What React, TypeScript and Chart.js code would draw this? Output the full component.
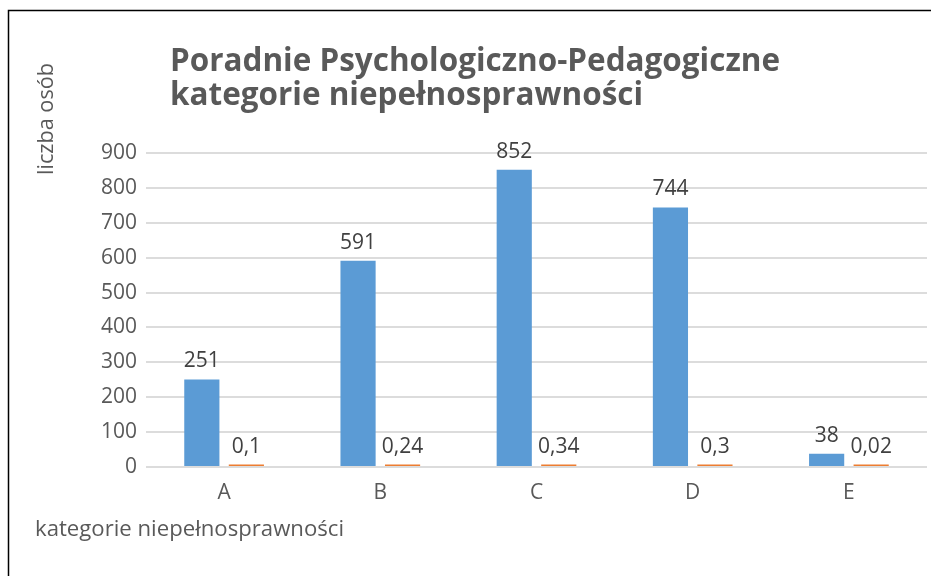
import React, { useEffect, useRef } from "react";
import { Chart, registerables } from "chart.js";

Chart.register(...registerables);

const categories = ["A", "B", "C", "D", "E"];
const countValues = [251, 591, 852, 744, 38];
const shareValues = [0.1, 0.24, 0.34, 0.3, 0.02];
const yMin = 0;
const yMax = 900;
const yStep = 100;
const titleLines = ["Poradnie Psychologiczno-Pedagogiczne", "kategorie niepełnosprawności"];
const yAxisTitle = "liczba osób";
const xAxisTitle = "kategorie niepełnosprawności";

const FONT = "'Open Sans', 'DejaVu Sans', sans-serif";
const TEXT = "#595959";
const LABEL = "#404040";

const fmt = (v: number) => String(v).replace(".", ",");

// draw text stretched horizontally to a target width
function fitText(ctx: CanvasRenderingContext2D, text: string, x: number, y: number, width: number) {
  const w = ctx.measureText(text).width;
  ctx.save();
  ctx.translate(x, y);
  ctx.scale(width / w, 1);
  ctx.fillText(text, 0, 0);
  ctx.restore();
}

const decorPlugin = {
  id: "decor",
  afterDraw(chart: any) {
    const ctx = chart.ctx as CanvasRenderingContext2D;
    ctx.save();
    // frame
    ctx.strokeStyle = "#000";
    ctx.lineWidth = 1.5;
    ctx.beginPath();
    ctx.moveTo(8.5, 576);
    ctx.lineTo(8.5, 10.5);
    ctx.lineTo(931, 10.5);
    ctx.stroke();

    // title
    ctx.fillStyle = TEXT;
    ctx.textAlign = "left";
    ctx.textBaseline = "alphabetic";
    ctx.font = `bold 33px ${FONT}`;
    const w0 = ctx.measureText(titleLines[0]).width;
    const sx = 610 / w0;
    ctx.save();
    ctx.translate(170, 0);
    ctx.scale(sx, 1);
    ctx.fillText(titleLines[0], 0, 71);
    ctx.fillText(titleLines[1], 0, 105);
    ctx.restore();

    // y axis title
    ctx.font = `21px ${FONT}`;
    ctx.save();
    ctx.translate(53, 175);
    ctx.rotate(-Math.PI / 2);
    fitText(ctx, yAxisTitle, 0, 0, 112);
    ctx.restore();

    // x axis title
    fitText(ctx, xAxisTitle, 35, 536, 309);

    // data labels
    ctx.fillStyle = LABEL;
    ctx.font = `21px ${FONT}`;
    ctx.textAlign = "center";
    ctx.textBaseline = "alphabetic";
    chart.data.datasets.forEach((ds: any, di: number) => {
      const meta = chart.getDatasetMeta(di);
      meta.data.forEach((el: any, i: number) => {
        ctx.fillText(fmt(ds.data[i]), el.x, el.y - 12);
      });
    });
    ctx.restore();
  },
};

export default function App() {
  const ref = useRef<HTMLCanvasElement | null>(null);
  useEffect(() => {
    document.body.style.margin = "0";
    const chart = new Chart(ref.current as HTMLCanvasElement, {
      type: "bar",
      data: {
        labels: categories,
        datasets: [
          {
            label: "liczba osób",
            data: countValues,
            backgroundColor: "#5B9BD5",
            categoryPercentage: 0.57,
            barPercentage: 0.79,
          },
          {
            label: "udział",
            data: shareValues,
            backgroundColor: "#ED7D31",
            categoryPercentage: 0.57,
            barPercentage: 0.79,
            minBarLength: 2.5,
          },
        ],
      },
      options: {
        responsive: false,
        animation: false,
        layout: { padding: { top: 153, right: 4, left: 0, bottom: 0 } },
        plugins: { legend: { display: false }, tooltip: { enabled: false }, title: { display: false } },
        scales: {
          x: {
            grid: { display: false },
            border: { display: false },
            ticks: { color: TEXT, font: { family: FONT, size: 21 }, padding: 5 },
            afterFit: (s: any) => {
              s.height = 109;
            },
          },
          y: {
            min: yMin,
            max: yMax,
            ticks: { stepSize: yStep, color: TEXT, font: { family: FONT, size: 21 }, padding: 9 },
            grid: { color: "#dcdcdc", lineWidth: 2, drawTicks: false },
            border: { display: false },
            afterFit: (s: any) => {
              s.width = 146;
            },
          },
        },
      },
      plugins: [decorPlugin],
    });
    return () => chart.destroy();
  }, []);
  return (
    <div style={{ position: "absolute", left: 0, top: 0, width: 931, height: 576, background: "#fff" }}>
      <canvas ref={ref} width={931} height={576} style={{ width: 931, height: 576, display: "block" }} />
    </div>
  );
}
